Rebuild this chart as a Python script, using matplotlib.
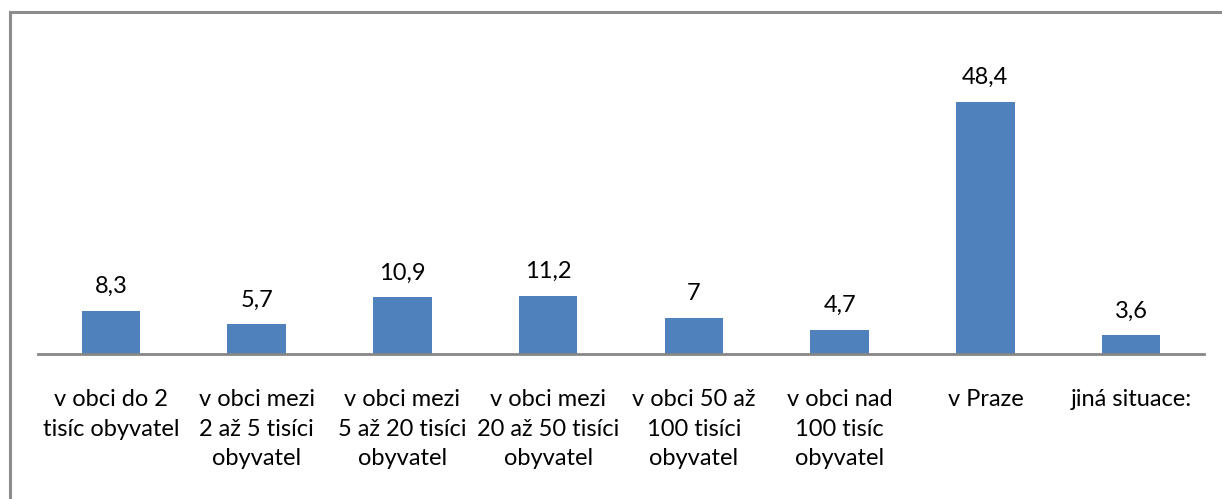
import matplotlib
matplotlib.use("Agg")
import matplotlib.pyplot as plt
import matplotlib.lines as mlines

categories = [
    "v obci do 2\ntisíc obyvatel",
    "v obci mezi\n2 až 5 tisíci\nobyvatel",
    "v obci mezi\n5 až 20 tisíci\nobyvatel",
    "v obci mezi\n20 až 50 tisíci\nobyvatel",
    "v obci 50 až\n100 tisíci\nobyvatel",
    "v obci nad\n100 tisíc\nobyvatel",
    "v Praze",
    "jiná situace:",
]
values = [8.3, 5.7, 10.9, 11.2, 7, 4.7, 48.4, 3.6]
value_labels = ["8,3", "5,7", "10,9", "11,2", "7", "4,7", "48,4", "3,6"]

W, H = 1222, 499
fig = plt.figure(figsize=(W / 100, H / 100), dpi=100)
plt.rcParams['font.family'] = ['Lato', 'DejaVu Sans']

# plot area: x 38..1204 px, baseline at y=354, 5.21 px per unit
x0, x1 = 38, 1204
y_base = 354
ymax = 60
y_top = y_base - ymax * 5.21
ax = fig.add_axes([x0 / W, 1 - y_base / H, (x1 - x0) / W, (y_base - y_top) / H])

xs = list(range(len(values)))
ax.bar(xs, values, width=0.4, color='#4f81bd')
ax.set_xlim(-0.5, len(values) - 0.5)
ax.set_ylim(0, ymax)

for x, v, lab in zip(xs, values, value_labels):
    ax.text(x, v + 2.6, lab, ha='center', va='bottom', fontsize=17, color='black')

for s in ['top', 'right', 'left']:
    ax.spines[s].set_visible(False)
ax.spines['bottom'].set_color('#868686')
ax.spines['bottom'].set_linewidth(2)
ax.set_yticks([])
ax.set_xticks(xs)
ax.set_xticklabels(categories, fontsize=17, linespacing=1.52)
ax.tick_params(axis='x', length=0, pad=25)

# outer frame (only top and left edges visible)
fig.add_artist(mlines.Line2D([10 / W, 10 / W], [0, 1 - 12 / H], color='#8c8c8c', lw=2.2,
                             transform=fig.transFigure))
fig.add_artist(mlines.Line2D([10 / W, 1], [1 - 12 / H, 1 - 12 / H], color='#8c8c8c', lw=2.2,
                             transform=fig.transFigure))

fig.savefig("out.png", dpi=100)
